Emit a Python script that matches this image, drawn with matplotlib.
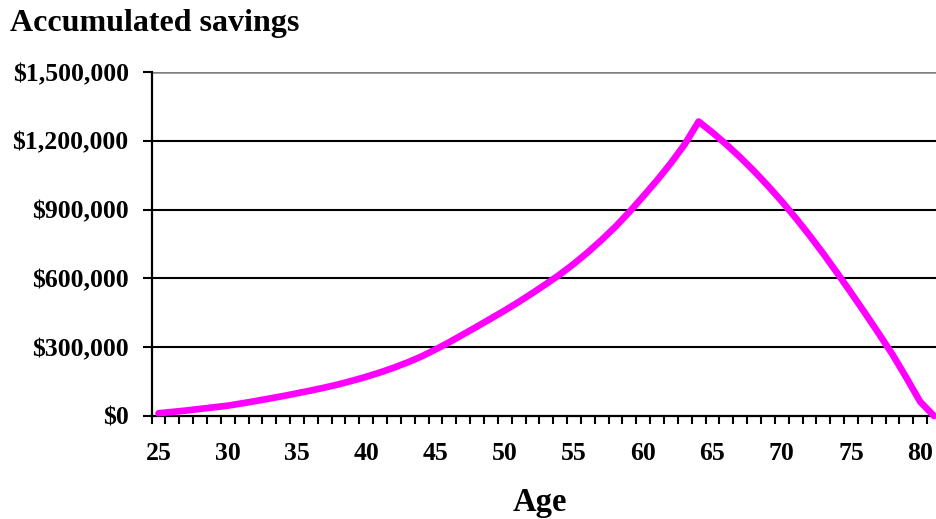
import matplotlib
matplotlib.use("Agg")
import matplotlib.pyplot as plt
from matplotlib.ticker import FixedLocator, FuncFormatter

# ages 25..81 and the savings balance at each age
ages = list(range(25, 82))
savings = [
    12000, 18000, 24000, 31000, 38000,          # 25-29
    45000, 55000, 65000, 76000, 87000,          # 30-34
    99000, 111000, 124000, 138000, 154000,      # 35-39
    171000, 190000, 211000, 234000, 260000,     # 40-44
    290000, 322000, 356000, 390000, 425000,     # 45-49
    460000, 497000, 536000, 576000, 618000,     # 50-54
    664000, 714000, 768000, 826000, 890000,     # 55-59
    958000, 1028000, 1103000, 1185000, 1284000, # 60-64
    1236000, 1184000, 1128000, 1068000, 1004000, # 65-69
    936000, 864000, 788000, 708000, 624000,     # 70-74
    538000, 450000, 360000, 268000, 167000,     # 75-79
    62000, 0,                                   # 80-81
]
age_labels = list(range(25, 81, 5))
y_ticks = [0, 300000, 600000, 900000, 1200000, 1500000]

serif = ["Liberation Serif", "DejaVu Serif"]

fig = plt.figure(figsize=(9.36, 5.19), dpi=100)
W, H = 936, 519
x0, x1 = 151.6, 941.0
y_top, y_bot = 72.0, 416.0
ax = fig.add_axes([x0 / W, (H - y_bot) / H, (x1 - x0) / W, (y_bot - y_top) / H])

ax.plot(ages, savings, color="#FF00FF", linewidth=4.8,
        solid_capstyle="round", clip_on=False, zorder=5)

ax.set_xlim(24.5, 81.5)
ax.set_ylim(0, 1500000)

# horizontal gridlines
for v in y_ticks[1:-1]:
    ax.axhline(v, color="black", linewidth=1.5, zorder=1)
ax.axhline(y_ticks[-1], color="#808080", linewidth=1.8, zorder=1)

for s in ["top", "right"]:
    ax.spines[s].set_visible(False)
for s in ["left", "bottom"]:
    ax.spines[s].set_linewidth(1.6)
    ax.spines[s].set_color("black")

ax.set_yticks(y_ticks)
ax.yaxis.set_major_formatter(FuncFormatter(lambda v, p: f"${v:,.0f}"))
ax.tick_params(axis="y", direction="out", length=6.5, width=1.5, pad=10)

ax.xaxis.set_major_locator(FixedLocator(age_labels))
ax.xaxis.set_minor_locator(FixedLocator([a - 0.5 for a in ages] + [ages[-1] + 0.5]))
ax.tick_params(axis="x", which="major", length=0, pad=19)
ax.tick_params(axis="x", which="minor", direction="out", length=6, width=1.5)

for lab in ax.get_xticklabels() + ax.get_yticklabels():
    lab.set_family(serif)
    lab.set_fontweight("bold")
    lab.set_fontsize(18.5)

fig.text(10 / W, 1 - 23 / H, "Accumulated savings", family=serif,
         fontweight="bold", fontsize=23, ha="left", va="center")
fig.text(540 / W, 1 - 502 / H, "Age", family=serif,
         fontweight="bold", fontsize=23.5, ha="center", va="center")

fig.savefig("out.png", dpi=100)
